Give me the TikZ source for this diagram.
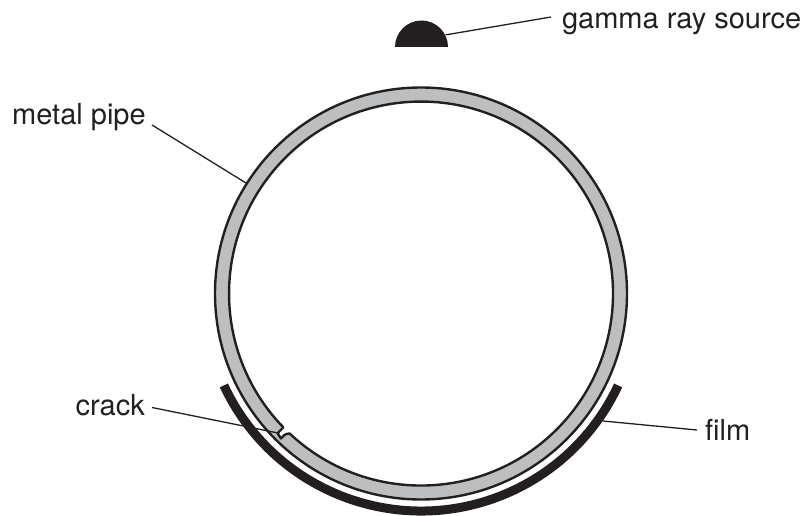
\documentclass[tikz,border=0pt]{standalone}
\usepackage{fontspec}
\setmainfont{TeX Gyre Heros}
\definecolor{ink}{HTML}{231F20}
\definecolor{pipegrey}{HTML}{BCBEC0}
\tikzset{
  x=1pt,y=1pt,
  lab/.style={inner sep=0pt,font=\fontsize{29}{31}\selectfont,text=ink,anchor=base west},
  leader/.style={draw=ink,line width=1.3pt},
  pipeline/.style={draw=ink,line width=2.4pt}
}
\begin{document}
\begin{tikzpicture}
\useasboundingbox (0,0) rectangle (805,515);
% film
\draw[ink,line width=9pt] (421,221.5) ++(205:217.5) arc[start angle=205,end angle=335,radius=217.5];
% pipe
\fill[pipegrey] (421,221.5) circle[radius=206];
\draw[pipeline] (421,221.5) circle[radius=206];
\draw[pipeline,fill=white,line join=round] (289.6,81.5) arc[start angle=226.8,end angle=584.2,radius=192]
  -- (277.5,81.7) -- (281,76.5) .. controls (283,79) and (285,81.5) .. (289.6,81.5) -- cycle;
% source
\fill[ink] (395,468) arc[start angle=180,end angle=0,radius=26.5] -- cycle;
\node[inner sep=0pt] (source) at (445,480) {};
% labels
\node[lab] (gamma) at (562,486.5) {gamma ray source};
\node[lab] (metal) at (12,390) {metal pipe};
\node[lab] (crack) at (75.5,99.3) {crack};
\node[lab] (film) at (705,75) {film};
% free ends
\coordinate (gammaend) at (551,498);
\coordinate (metalstart) at (152,390);
\coordinate (metalend) at (246,332);
\coordinate (crackstart) at (152,107.5);
\coordinate (crackend) at (278,82);
\coordinate (filmstart) at (697,85);
\coordinate (filmend) at (603,94);
\draw[leader] (source) -- (gammaend);
\draw[leader] (metalstart) -- (metalend);
\draw[leader] (crackstart) -- (crackend);
\draw[leader] (filmstart) -- (filmend);
\end{tikzpicture}
\end{document}
